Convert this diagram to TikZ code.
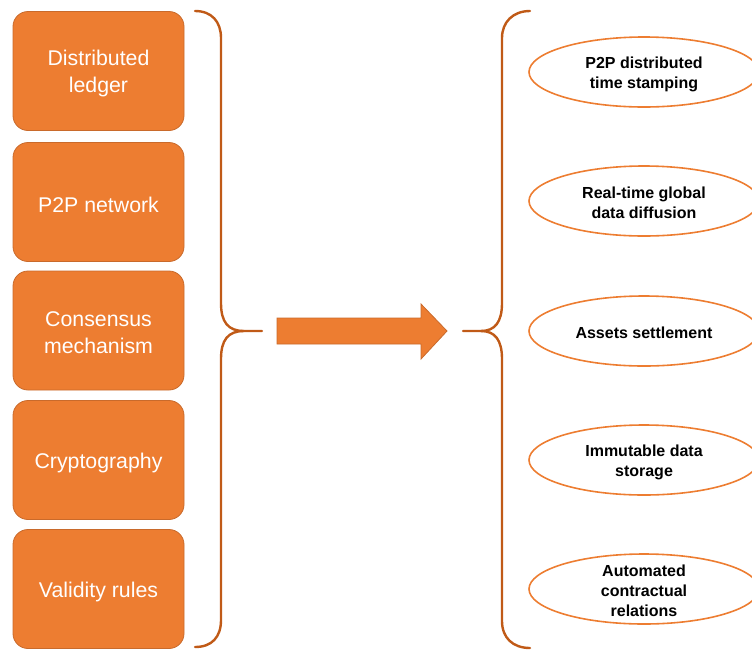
\documentclass[tikz,border=0pt]{standalone}
\usepackage{fontspec}
\setmainfont{Liberation Sans}
\usetikzlibrary{shapes.geometric}
\definecolor{boxfill}{HTML}{ED7D31}
\definecolor{boxline}{HTML}{C96A2B}
\definecolor{bracecol}{HTML}{C05A17}
\begin{document}
\begin{tikzpicture}[x=1pt,y=-1pt,
  boxtext/.style={text=white, align=center, inner sep=0pt, yshift=-2.5pt,
    font=\fontsize{21.3}{27}\selectfont},
  techbox/.style={draw=boxline, line width=0.8pt, fill=boxfill, rounded corners=15pt,
    minimum width=171pt, minimum height=119pt, inner sep=0pt,
    label={[boxtext]center:#1}},
  usetext/.style={align=center, inner sep=0pt, yshift=-2pt,
    font=\fontsize{16}{20}\selectfont\bfseries},
  usecase/.style={ellipse, draw=boxfill, line width=1.6pt, fill=white,
    minimum width=230pt, minimum height=70pt, inner sep=0pt,
    label={[usetext]center:#1}},
  bracestyle/.style={draw=bracecol, line width=2.4pt, line cap=round}]
\useasboundingbox (0,0) rectangle (752,649);
\clip (0,0) rectangle (752,649);
\node[techbox={Distributed\\ledger}] (b1) at (98.5,71) {};
\node[techbox={P2P network}] (b2) at (98.5,202) {};
\node[techbox={Consensus\\mechanism}] (b3) at (98.5,330.5) {};
\node[techbox={Cryptography}] (b4) at (98.5,460) {};
\node[techbox={Validity rules}] (b5) at (98.5,589) {};
% left brace
\coordinate (lt) at (195,11);
\coordinate (lm) at (262,331);
\coordinate (lb) at (195,647);
\draw[bracestyle] (lt) .. controls (212,11) and (221,22) .. (221,38) -- (221,303)
  .. controls (221,322) and (228,331) .. (244,331) -- (lm);
\draw[bracestyle] (244,331) .. controls (228,331) and (221,340) .. (221,359) -- (221,620)
  .. controls (221,637) and (212,647) .. (lb);
% arrow
\draw[draw=boxline, line width=0.8pt, fill=boxfill]
  (277,318) -- (421,318) -- (421,304) -- (447,331) -- (421,359) -- (421,344) -- (277,344) -- cycle;
% right brace
\coordinate (rt) at (530,11);
\coordinate (rm) at (463,331);
\coordinate (rb) at (530,648);
\draw[bracestyle] (rt) .. controls (513,11) and (502,22) .. (502,38) -- (502,303)
  .. controls (502,322) and (495,331) .. (481,331) -- (rm);
\draw[bracestyle] (481,331) .. controls (495,331) and (502,340) .. (502,359) -- (502,621)
  .. controls (502,638) and (513,648) .. (rb);
\node[usecase={P2P distributed\\time stamping}] (e1) at (644,72) {};
\node[usecase={Real-time global\\data diffusion}] (e2) at (644,201) {};
\node[usecase={Assets settlement}] (e3) at (644,331) {};
\node[usecase={Immutable data\\storage}] (e4) at (644,460) {};
\node[usecase={Automated\\contractual\\relations}] (e5) at (644,589) {};
\end{tikzpicture}
\end{document}
